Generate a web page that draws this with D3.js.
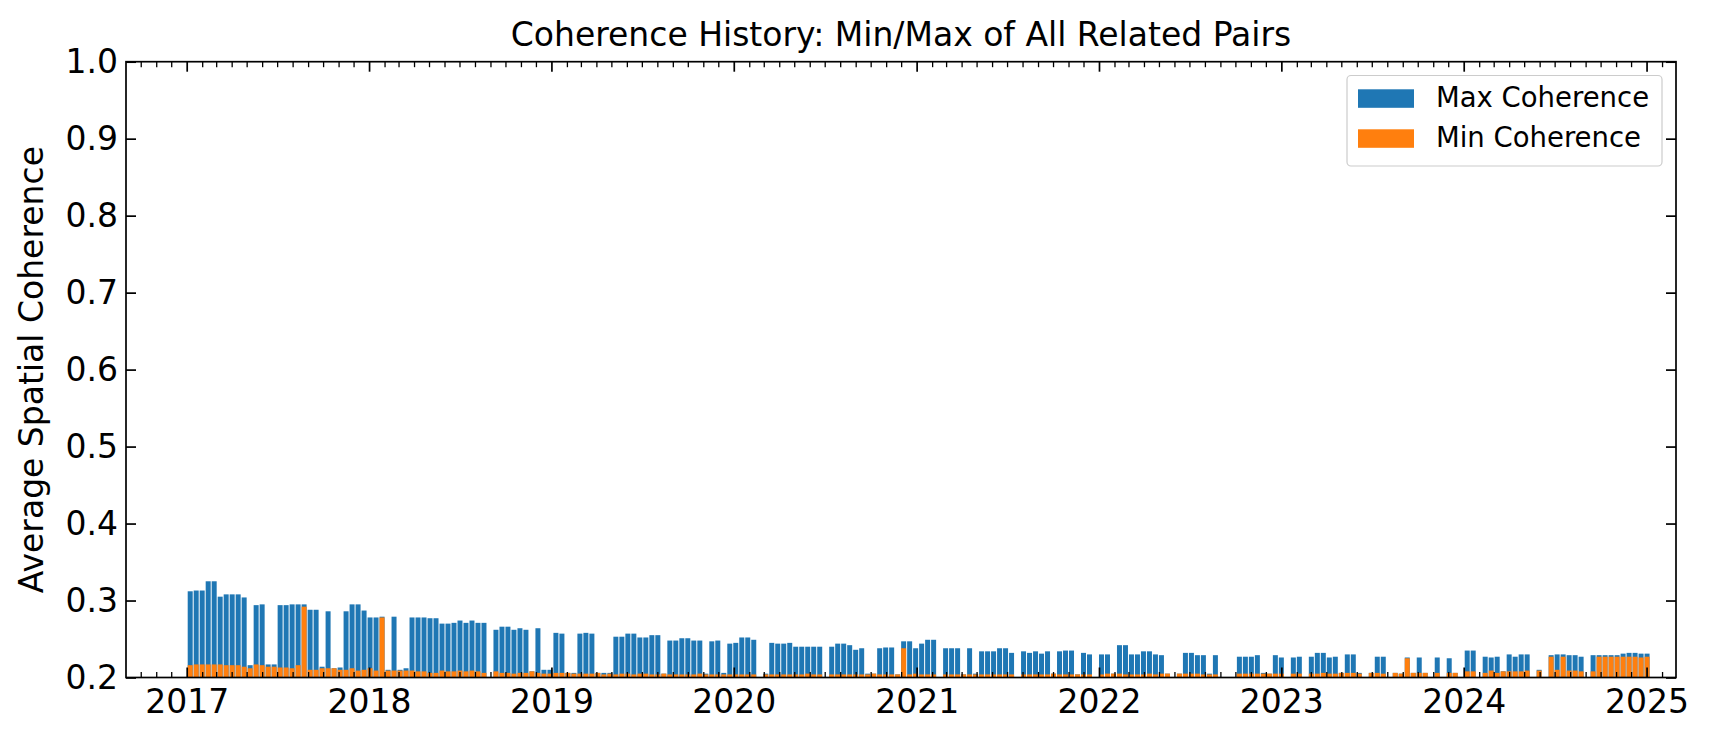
<!DOCTYPE html>
<html><head><meta charset="utf-8">
<script src="https://cdn.jsdelivr.net/npm/d3@7"></script>
<style>
body{margin:0;background:#fff}
svg{display:block}
text{font-family:"DejaVu Sans",sans-serif;fill:#000}
</style>
</head><body>
<svg id="chart" width="1710" height="741"></svg>
<script>
// ---------- DATA ----------
const acquisitionDates = [
 "2017-01-08","2017-01-20","2017-02-01","2017-02-13","2017-02-25","2017-03-09","2017-03-21","2017-04-02","2017-04-14","2017-04-26",
 "2017-05-08","2017-05-20","2017-06-01","2017-06-13","2017-06-25","2017-07-07","2017-07-19","2017-07-31","2017-08-12","2017-08-24",
 "2017-09-05","2017-09-17","2017-09-29","2017-10-11","2017-10-23","2017-11-04","2017-11-16","2017-11-28","2017-12-10","2017-12-22",
 "2018-01-03","2018-01-15","2018-01-27","2018-02-08","2018-02-20","2018-03-04","2018-03-16","2018-03-28","2018-04-09","2018-04-21",
 "2018-05-03","2018-05-15","2018-05-27","2018-06-08","2018-06-20","2018-07-02","2018-07-14","2018-07-26","2018-08-07","2018-08-19",
 "2018-09-12","2018-09-24","2018-10-06","2018-10-18","2018-10-30","2018-11-11","2018-11-23","2018-12-05","2018-12-17","2018-12-29",
 "2019-01-10","2019-01-22","2019-02-03","2019-02-15","2019-02-27","2019-03-11","2019-03-23","2019-04-04","2019-04-16","2019-04-28",
 "2019-05-10","2019-05-22","2019-06-03","2019-06-15","2019-06-27","2019-07-09","2019-07-21","2019-08-02","2019-08-14","2019-08-26",
 "2019-09-07","2019-09-19","2019-10-01","2019-10-13","2019-10-25","2019-11-06","2019-11-18","2019-11-30","2019-12-12","2019-12-24",
 "2020-01-05","2020-01-17","2020-01-29","2020-02-10","2020-03-05","2020-03-17","2020-03-29","2020-04-10","2020-04-22","2020-05-04",
 "2020-05-16","2020-05-28","2020-06-09","2020-06-21","2020-07-15","2020-07-27","2020-08-08","2020-08-20","2020-09-01","2020-09-13",
 "2020-09-25","2020-10-07","2020-10-19","2020-10-31","2020-11-12","2020-11-24","2020-12-06","2020-12-18","2020-12-30",
 "2021-01-11","2021-01-23","2021-02-04","2021-02-28","2021-03-12","2021-03-24","2021-04-05","2021-04-17","2021-04-29","2021-05-11",
 "2021-05-23","2021-06-04","2021-06-16","2021-06-28","2021-07-10","2021-08-03","2021-08-15","2021-08-27","2021-09-08","2021-09-20",
 "2021-10-02","2021-10-14","2021-10-26","2021-11-07","2021-11-19","2021-12-01","2021-12-13",
 "2022-01-06","2022-01-18","2022-01-30","2022-02-11","2022-02-23","2022-03-07","2022-03-19","2022-03-31","2022-04-12","2022-04-24",
 "2022-05-06","2022-05-18","2022-06-11","2022-06-23","2022-07-05","2022-07-17","2022-07-29","2022-08-10","2022-08-22","2022-10-09",
 "2022-10-21","2022-11-02","2022-11-14","2022-11-26","2022-12-08","2022-12-20",
 "2023-01-01","2023-01-25","2023-02-06","2023-03-02","2023-03-14","2023-03-26","2023-04-07","2023-04-19","2023-05-01","2023-05-13",
 "2023-05-25","2023-06-06","2023-06-30","2023-07-12","2023-07-24","2023-08-17","2023-08-29","2023-09-10","2023-09-22","2023-10-04",
 "2023-10-16","2023-11-09","2023-12-03","2023-12-15",
 "2024-01-08","2024-01-20","2024-02-13","2024-02-25","2024-03-08","2024-03-20","2024-04-01","2024-04-13","2024-04-25","2024-05-07",
 "2024-05-31","2024-06-24","2024-07-06","2024-07-18","2024-07-30","2024-08-11","2024-08-23","2024-09-16","2024-09-28","2024-10-10",
 "2024-10-22","2024-11-03","2024-11-15","2024-11-27","2024-12-09","2024-12-21","2025-01-02"
];

const maxCoherence = [
 .312,.313,.313,.325,.325,.305,.308,.308,.308,.304,
 .216,.294,.295,.217,.217,.294,.294,.295,.295,.295,
 .288,.288,.214,.286,.212,.213,.286,.295,.295,.287,
 .278,.278,.279,.210,.279,.210,.212,.278,.278,.278,
 .277,.277,.270,.270,.271,.274,.271,.274,.271,.271,
 .262,.266,.266,.262,.264,.262,.208,.264,.210,.210,
 .258,.257,.206,.206,.257,.258,.257,.206,.206,.206,
 .253,.253,.257,.257,.252,.252,.255,.255,.205,.248,
 .248,.251,.251,.248,.248,.205,.247,.248,.206,.244,
 .245,.252,.252,.249,.205,.245,.244,.244,.245,.240,
 .240,.240,.240,.240,.240,.244,.244,.242,.236,.238,
 .205,.205,.238,.239,.239,.204,.247,.247,.238,
 .244,.249,.249,.238,.238,.238,.204,.238,.205,.234,
 .234,.234,.238,.238,.232,.234,.232,.234,.231,.234,
 .205,.234,.235,.235,.204,.232,.230,
 .230,.230,.205,.242,.242,.230,.230,.234,.234,.230,
 .229,.205,.205,.232,.232,.229,.229,.205,.229,.227,
 .227,.227,.229,.206,.205,.229,
 .226,.226,.227,.227,.232,.232,.226,.227,.206,.230,
 .230,.206,.206,.227,.227,.206,.205,.226,.206,.226,
 .206,.226,.225,.206,
 .235,.235,.227,.226,.227,.208,.230,.227,.230,.230,
 .210,.229,.230,.230,.229,.229,.227,.229,.229,.229,
 .229,.229,.231,.232,.232,.231,.231
];

const minCoherence = [
 .216,.217,.217,.217,.217,.217,.216,.216,.216,.214,
 .212,.217,.216,.214,.214,.213,.213,.212,.216,.292,
 .210,.210,.212,.212,.212,.210,.210,.212,.209,.210,
 .212,.209,.278,.209,.209,.209,.209,.209,.208,.208,
 .206,.206,.209,.208,.208,.209,.208,.209,.208,.206,
 .208,.206,.206,.205,.206,.206,.208,.206,.205,.205,
 .206,.206,.206,.205,.205,.205,.205,.206,.204,.205,
 .204,.205,.205,.204,.205,.205,.204,.204,.205,.204,
 .204,.204,.204,.204,.205,.204,.204,.204,.204,.204,
 .204,.204,.204,.204,.204,.204,.204,.204,.204,.204,
 .204,.205,.204,.204,.204,.204,.204,.204,.204,.204,
 .204,.205,.204,.204,.204,.204,.238,.204,.205,
 .204,.204,.204,.204,.204,.204,.204,.204,.204,.204,
 .204,.204,.204,.204,.204,.204,.204,.204,.204,.204,
 .205,.204,.204,.204,.204,.204,.204,
 .204,.205,.205,.205,.204,.204,.204,.204,.205,.204,
 .205,.205,.205,.205,.205,.205,.204,.204,.204,.205,
 .205,.205,.205,.205,.205,.205,
 .205,.205,.205,.205,.205,.206,.205,.205,.206,.206,
 .206,.205,.206,.206,.205,.206,.205,.225,.206,.206,
 .206,.206,.206,.206,
 .208,.208,.206,.209,.206,.208,.208,.208,.208,.209,
 .209,.227,.210,.227,.209,.209,.208,.208,.227,.227,
 .227,.227,.227,.227,.227,.226,.227
];

const yTickValues = [0.2,0.3,0.4,0.5,0.6,0.7,0.8,0.9,1.0];
const yearTicks = ["2017","2018","2019","2020","2021","2022","2023","2024","2025"];
const seriesNames = ["Max Coherence","Min Coherence"];
const seriesColors = ["#1f77b4","#ff7f0e"];
const titleText = "Coherence History: Min/Max of All Related Pairs";
const yLabelText = "Average Spatial Coherence";

// ---------- LAYOUT ----------
const svg = d3.select("#chart");
const L = 126, R = 1676, T = 61.7, B = 677.5;
const parse = d3.utcParse("%Y-%m-%d");
const records = acquisitionDates.map((d,i)=>({date:parse(d), max:maxCoherence[i], min:minCoherence[i]}));

const x = d3.scaleUtc()
  .domain([new Date(Date.UTC(2016,8,1,12)), new Date(Date.UTC(2025,1,28,22))])
  .range([L, R]);
const y = d3.scaleLinear().domain([0.2, 1.0]).range([B, T]);
const dayMs = 86400000;
const barW = x(new Date(x.domain()[0].getTime() + 10*dayMs)) - L;

svg.append("defs").append("clipPath").attr("id","plotclip")
  .append("rect").attr("x",L).attr("y",T).attr("width",R-L).attr("height",B-T);

const g = svg.append("g").attr("clip-path","url(#plotclip)");
g.selectAll("rect.max").data(records).join("rect").attr("class","max")
  .attr("x", d=>x(d.date)-barW/2).attr("width", barW)
  .attr("y", d=>y(d.max)).attr("height", d=>B - y(d.max))
  .attr("fill", seriesColors[0]);
g.selectAll("rect.min").data(records).join("rect").attr("class","min")
  .attr("x", d=>x(d.date)-barW/2).attr("width", barW)
  .attr("y", d=>y(d.min)).attr("height", d=>B - y(d.min))
  .attr("fill", seriesColors[1]);

// ---------- AXES ----------
const majorDates = yearTicks.map(t=>parse(t+"-01-01"));
const minorDates = d3.utcMonth.range(x.domain()[0], x.domain()[1]).filter(d=>d.getUTCMonth()!==0);
minorDates.unshift(); 
const fmtYear = d3.utcFormat("%Y");

function styleAxis(sel, w, fs){
  sel.select(".domain").remove();
  sel.selectAll("line").attr("stroke","#000").attr("stroke-width",w);
  sel.selectAll("text").attr("font-size",fs).attr("font-family","DejaVu Sans").attr("fill","#000");
}

svg.append("g").attr("transform",`translate(0,${B})`)
  .call(d3.axisBottom(x).tickValues(minorDates).tickSize(-5.5).tickFormat(""))
  .call(s=>styleAxis(s,1.3,0));
svg.append("g").attr("transform",`translate(0,${B})`)
  .call(d3.axisBottom(x).tickValues(majorDates).tickSize(-10).tickPadding(12).tickFormat(fmtYear))
  .call(s=>styleAxis(s,1.7,33));
svg.append("g").attr("transform",`translate(0,${T})`)
  .call(d3.axisTop(x).tickValues(minorDates).tickSize(-5.5).tickFormat(""))
  .call(s=>styleAxis(s,1.3,0));
svg.append("g").attr("transform",`translate(0,${T})`)
  .call(d3.axisTop(x).tickValues(majorDates).tickSize(-10).tickFormat(""))
  .call(s=>styleAxis(s,1.7,0));
svg.append("g").attr("transform",`translate(${L},0)`)
  .call(d3.axisLeft(y).tickValues(yTickValues).tickSize(-10).tickPadding(8).tickFormat(d3.format(".1f")))
  .call(s=>styleAxis(s,1.7,33));
svg.append("g").attr("transform",`translate(${R},0)`)
  .call(d3.axisRight(y).tickValues(yTickValues).tickSize(-10).tickFormat(""))
  .call(s=>styleAxis(s,1.7,0));

svg.append("rect").attr("x",L).attr("y",T).attr("width",R-L).attr("height",B-T)
  .attr("fill","none").attr("stroke","#000").attr("stroke-width",1.7);

// ---------- TEXT ----------
svg.append("text").attr("x",(L+R)/2).attr("y",46).attr("text-anchor","middle")
  .attr("font-size",33).text(titleText);
svg.append("text").attr("transform",`translate(43,${(T+B)/2}) rotate(-90)`)
  .attr("text-anchor","middle").attr("font-size",33).text(yLabelText);

// ---------- LEGEND ----------
const lg = svg.append("g");
lg.append("rect").attr("x",1347).attr("y",75.5).attr("width",315).attr("height",90.5)
  .attr("rx",4).attr("fill","#fff").attr("fill-opacity",0.8)
  .attr("stroke","#cccccc").attr("stroke-width",1.2);
seriesNames.forEach((name,i)=>{
  lg.append("rect").attr("x",1358).attr("y",89.3+i*40).attr("width",56).attr("height",18.5)
    .attr("fill",seriesColors[i]);
  lg.append("text").attr("x",1436).attr("y",106.5+i*40.5).attr("font-size",27.5).text(name);
});
</script>
</body></html>
